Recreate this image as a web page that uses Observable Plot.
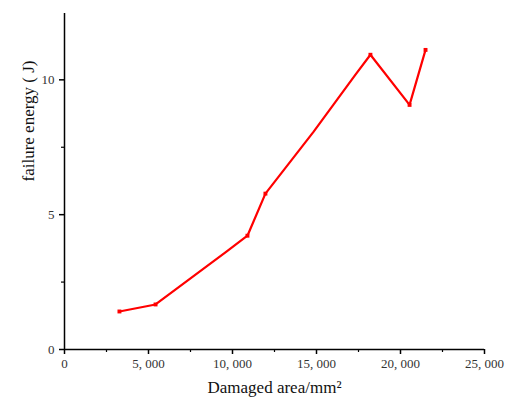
<!DOCTYPE html>
<html>
<head>
<meta charset="utf-8">
<script src="https://cdn.jsdelivr.net/npm/d3@7"></script>
<script src="https://cdn.jsdelivr.net/npm/@observablehq/plot@0.6"></script>
<style>
  html, body { margin: 0; padding: 0; background: #fff; }
</style>
</head>
<body>
<div id="chart"></div>
<script>
const damagedArea = [3270, 5420, 9640, 10890, 11960, 14820, 17320, 18210, 20540, 21490];
const failureEnergy = [1.41, 1.67, 3.63, 4.22, 5.78, 8.07, 10.19, 10.93, 9.07, 11.11];
const hasMarker = [true, true, false, true, true, false, false, true, true, true];
const xTicks = [0, 5000, 10000, 15000, 20000, 25000];
const xMinorTicks = [2500, 7500, 12500, 17500, 22500];
const yTicks = [0, 5, 10];
const yMinorTicks = [2.5, 7.5];
const xLabel = "Damaged area/mm²";
const yLabel = "failure energy ( J)";

const data = damagedArea.map((x, i) => ({x, y: failureEnergy[i], m: hasMarker[i]}));
const fmt = d => d3.format(",")(d).replace(/,/g, ", ");

const chart = Plot.plot({
  width: 505,
  height: 403,
  marginLeft: 64,
  marginRight: 21,
  marginTop: 13,
  marginBottom: 54,
  style: {fontFamily: "'Liberation Serif', 'Times New Roman', serif", fontSize: "13px", color: "#333", background: "#fff"},
  x: {domain: [0, 25000]},
  y: {domain: [0, 12.46]},
  marks: [
    Plot.axisX({ticks: xTicks, tickFormat: fmt, tickSize: 5, tickPadding: 4, stroke: "#000", strokeWidth: 1.5, fontSize: 13, label: null}),
    Plot.axisX({ticks: xMinorTicks, tickFormat: null, text: null, tickSize: 3, stroke: "#000", strokeWidth: 1.2, label: null}),
    Plot.axisY({ticks: yTicks, tickSize: 5, tickPadding: 5, stroke: "#000", strokeWidth: 1.5, fontSize: 13, label: null}),
    Plot.axisY({ticks: yMinorTicks, text: null, tickSize: 3, stroke: "#000", strokeWidth: 1.2, label: null}),
    Plot.ruleY([0], {stroke: "#000", strokeWidth: 1.5}),
    Plot.ruleX([0], {stroke: "#000", strokeWidth: 1.5}),
    Plot.line(data, {x: "x", y: "y", stroke: "#ff0000", strokeWidth: 2.2}),
    Plot.dot(data.filter(d => d.m), {x: "x", y: "y", symbol: "square", r: 2.2, fill: "#ff0000", stroke: null}),
    Plot.text([xLabel], {frameAnchor: "bottom", dy: 43, text: d => d, fontSize: 17, fill: "#111"}),
    Plot.text([yLabel], {frameAnchor: "left", dx: -36, rotate: -90, text: d => d, fontSize: 17, fill: "#111"})
  ]
});
document.getElementById("chart").appendChild(chart);
</script>
</body>
</html>
